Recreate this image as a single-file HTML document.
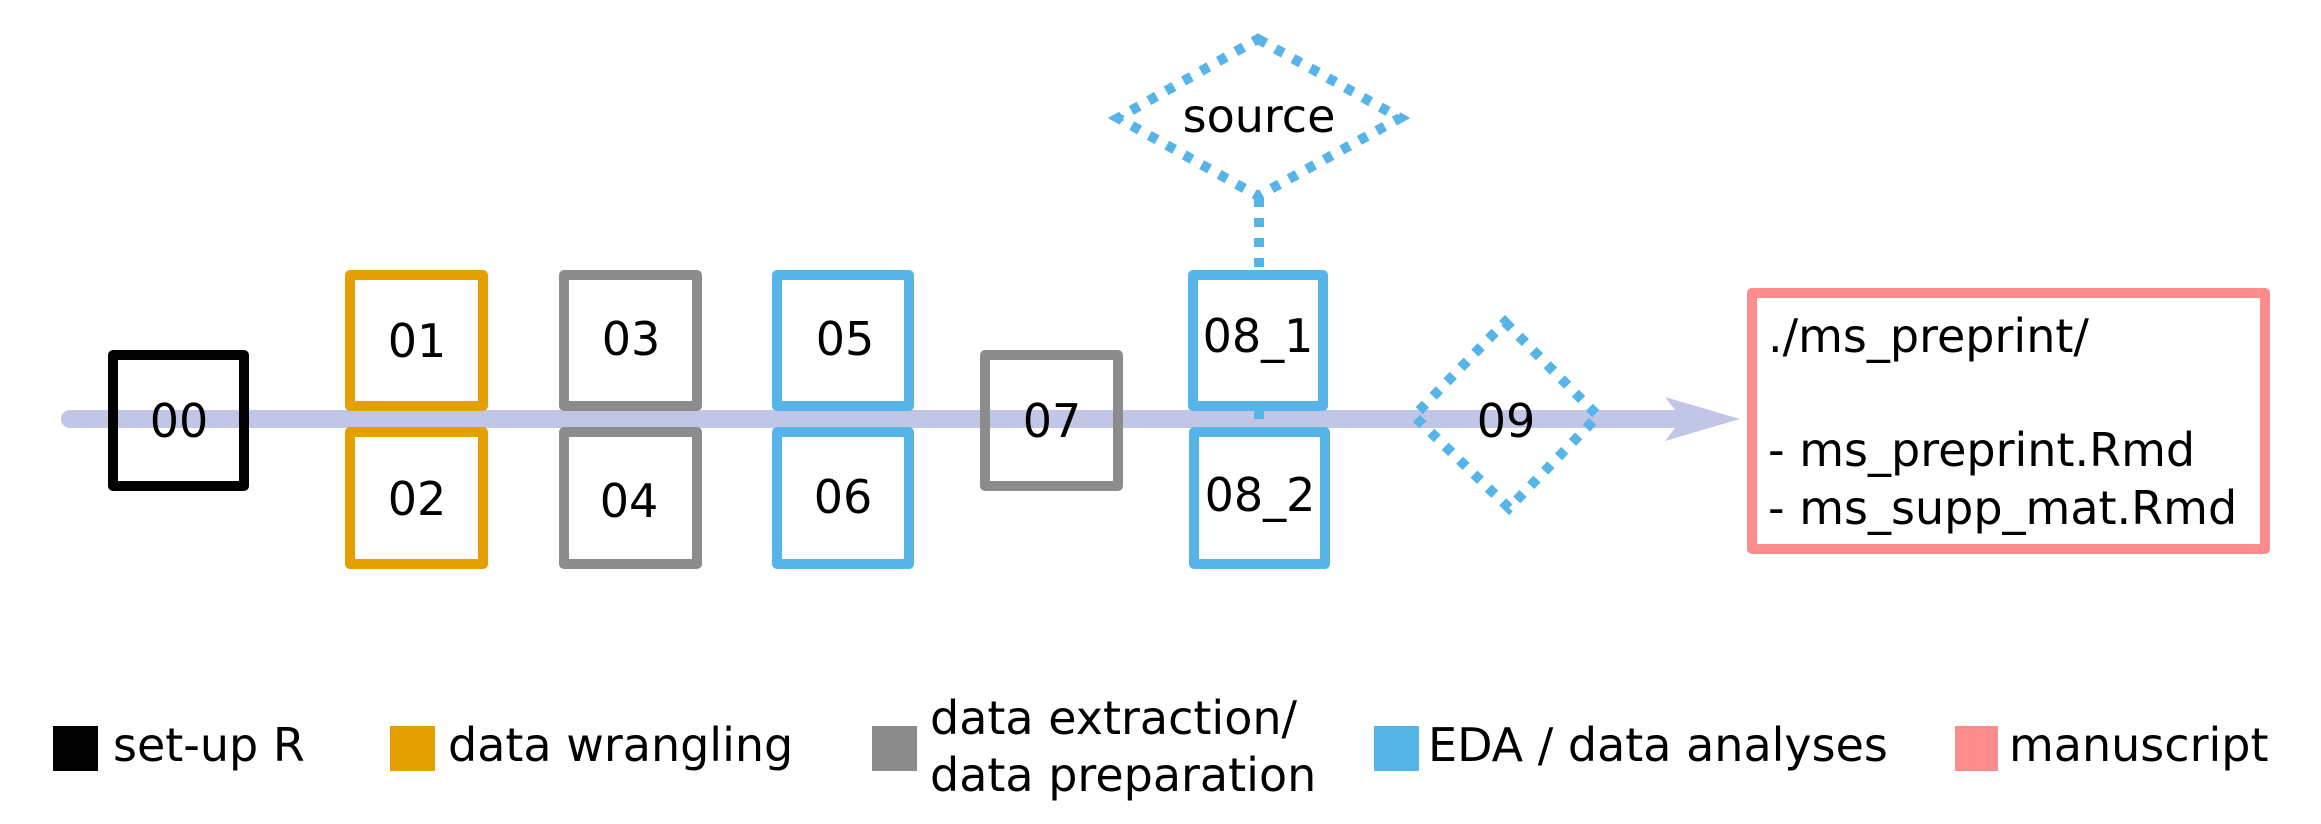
<!DOCTYPE html>
<html><head><meta charset="utf-8"><style>html,body{margin:0;padding:0;background:#fff}svg{display:block}</style></head>
<body>
<svg width="2321" height="824" viewBox="0 0 2321 824" xmlns="http://www.w3.org/2000/svg" font-family="DejaVu Sans, Liberation Sans, sans-serif" font-size="46">
<line x1="70" y1="419" x2="1690" y2="419" stroke="#c2c6e6" stroke-width="18" stroke-linecap="round"/>
<polygon points="1665,397 1740,419 1665,441 1682,419" fill="#c2c6e6"/>
<g fill="none" stroke-width="10" stroke-linejoin="round">
<rect x="113" y="355" width="131" height="131" stroke="#000"/>
<rect x="350" y="275" width="133" height="131" stroke="#e69f00"/>
<rect x="350" y="432" width="133" height="132" stroke="#e69f00"/>
<rect x="564" y="275" width="133" height="131" stroke="#8c8c8c"/>
<rect x="564" y="432" width="133" height="132" stroke="#8c8c8c"/>
<rect x="777" y="275" width="132" height="131" stroke="#56b4e9"/>
<rect x="777" y="432" width="132" height="132" stroke="#56b4e9"/>
<rect x="985" y="355" width="133" height="131" stroke="#8c8c8c"/>
<rect x="1193" y="275" width="130" height="131" stroke="#56b4e9"/>
<rect x="1194" y="432" width="131" height="132" stroke="#56b4e9"/>
<rect x="1752" y="293" width="513" height="256" stroke="#ff8c8c"/>
</g>
<g fill="none" stroke="#56b4e9" stroke-width="10" stroke-dasharray="9,11">
<polygon points="1258,39 1400,118 1258,196 1118,118"/>
<line x1="1259" y1="198" x2="1259" y2="270"/>
<line x1="1259" y1="410" x2="1259" y2="432"/>
<polygon points="1505,322 1598,416 1509,508 1414,416"/>
</g>
<g text-anchor="middle" fill="#000">
<text x="179" y="437">00</text>
<text x="417" y="357">01</text>
<text x="417" y="515">02</text>
<text x="631" y="355">03</text>
<text x="629" y="517">04</text>
<text x="845" y="355">05</text>
<text x="843" y="513">06</text>
<text x="1052" y="437">07</text>
<text x="1258" y="352">08_1</text>
<text x="1260" y="511">08_2</text>
<text x="1259" y="132">source</text>
<text x="1506" y="437">09</text>
</g>
<text x="1768" y="352">./ms_preprint/</text>
<text x="1768" y="466">- ms_preprint.Rmd</text>
<text x="1768" y="524">- ms_supp_mat.Rmd</text>
<rect x="53" y="726" width="45" height="45" fill="#000"/>
<text x="113" y="761">set-up R</text>
<rect x="390" y="726" width="45" height="45" fill="#e69f00"/>
<text x="448" y="761">data wrangling</text>
<rect x="872" y="726" width="45" height="45" fill="#8c8c8c"/>
<text x="930" y="734">data extraction/</text>
<text x="930" y="791">data preparation</text>
<rect x="1374" y="726" width="45" height="45" fill="#56b4e9"/>
<text x="1428" y="761">EDA / data analyses</text>
<rect x="1955" y="726" width="43" height="45" fill="#ff8c8c"/>
<text x="2009" y="761">manuscript</text>
</svg>
</body></html>
